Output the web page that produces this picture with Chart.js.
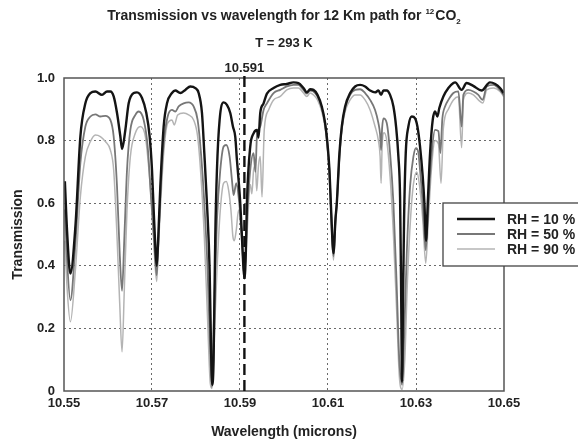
<!DOCTYPE html>
<html><head><meta charset="utf-8">
<script src="https://cdn.jsdelivr.net/npm/chart.js@4.4.1/dist/chart.umd.min.js"></script>
<style>html,body{margin:0;padding:0;background:#fff}canvas{display:block}</style>
</head><body>
<canvas id="c" width="578" height="443"></canvas>
<script>
// ---- data ----
const seriesLabels = ['RH = 10 %', 'RH = 50 %', 'RH = 90 %'];
const xTickValues = [10.55, 10.56, 10.57, 10.58, 10.59, 10.60, 10.61, 10.62, 10.63, 10.64, 10.65];
const xLabelledTicks = [10.55, 10.57, 10.59, 10.61, 10.63, 10.65];
const markerWavelength = 10.591;

const wl10 = [10.5502,10.5507,10.55145,10.55259,10.55372,10.55486,10.556,10.55713,10.55864,10.55978,10.56054,10.56129,10.56205,10.56281,10.56319,10.56394,10.5647,10.56584,10.56659,10.56773,10.56871,10.56947,10.57,10.57038,10.57076,10.57106,10.57136,10.57189,10.57265,10.57341,10.57454,10.5753,10.57643,10.57757,10.5787,10.57984,10.5806,10.58136,10.58189,10.58249,10.5831,10.58347,10.5837,10.584,10.58438,10.58476,10.58537,10.58628,10.58703,10.58779,10.58839,10.58892,10.5893,10.58968,10.59006,10.59044,10.59082,10.59104,10.59134,10.59157,10.59233,10.59309,10.59385,10.59422,10.5946,10.59536,10.59612,10.59763,10.59915,10.60064,10.60216,10.60329,10.60443,10.60519,10.60594,10.6067,10.60761,10.60859,10.60935,10.60988,10.61033,10.61071,10.61124,10.6117,10.612,10.6126,10.61313,10.61389,10.61503,10.61616,10.6173,10.61843,10.61957,10.6207,10.62146,10.62207,10.6226,10.62335,10.62411,10.62487,10.62547,10.626,10.62638,10.6266,10.62684,10.62706,10.62729,10.62767,10.62827,10.62903,10.62979,10.63032,10.63092,10.63153,10.63191,10.63229,10.63267,10.6332,10.6338,10.63433,10.63486,10.6353,10.63622,10.63736,10.6385,10.6389,10.64037,10.6415,10.643,10.6449,10.6468,10.648,10.6491,10.6499];
const t10 = [0.67,0.51,0.375,0.525,0.813,0.919,0.952,0.957,0.946,0.957,0.957,0.941,0.888,0.813,0.773,0.834,0.919,0.952,0.954,0.936,0.888,0.813,0.706,0.578,0.46,0.40,0.47,0.653,0.845,0.919,0.952,0.960,0.952,0.962,0.973,0.968,0.952,0.888,0.760,0.600,0.386,0.10,0.02,0.10,0.493,0.706,0.866,0.922,0.914,0.888,0.845,0.813,0.738,0.674,0.600,0.493,0.386,0.36,0.45,0.600,0.781,0.823,0.834,0.81,0.888,0.919,0.950,0.968,0.978,0.981,0.986,0.984,0.968,0.954,0.964,0.962,0.946,0.909,0.856,0.791,0.706,0.578,0.44,0.55,0.600,0.760,0.845,0.909,0.952,0.973,0.978,0.973,0.960,0.954,0.960,0.946,0.960,0.960,0.946,0.909,0.845,0.749,0.62,0.35,0.03,0.3,0.55,0.76,0.845,0.877,0.871,0.845,0.781,0.685,0.600,0.48,0.600,0.760,0.866,0.893,0.877,0.904,0.941,0.968,0.984,0.986,0.962,0.984,0.975,0.960,0.986,0.981,0.968,0.952];

const wl50 = [10.5502,10.5507,10.55145,10.55259,10.55372,10.55486,10.556,10.55713,10.55827,10.5594,10.56054,10.56129,10.56205,10.56266,10.56319,10.56372,10.56432,10.56508,10.56622,10.56697,10.56811,10.56902,10.56977,10.57053,10.57106,10.57136,10.57189,10.57265,10.57356,10.57454,10.5753,10.57606,10.57719,10.57833,10.57946,10.58037,10.58113,10.58189,10.58264,10.58325,10.58363,10.58416,10.58476,10.58552,10.58628,10.58688,10.58764,10.58817,10.58855,10.58915,10.58968,10.59044,10.59097,10.59157,10.59233,10.59309,10.5935,10.59385,10.5946,10.59536,10.59612,10.59763,10.59915,10.60064,10.60216,10.60329,10.60443,10.60519,10.60594,10.6067,10.60761,10.60859,10.60935,10.60988,10.61033,10.61071,10.61124,10.6117,10.612,10.6126,10.61313,10.61389,10.61503,10.61616,10.6173,10.61843,10.61957,10.6207,10.62146,10.62184,10.62207,10.6223,10.6226,10.62335,10.62411,10.62487,10.62562,10.6262,10.62684,10.62729,10.6279,10.62865,10.62941,10.63,10.63055,10.63092,10.63153,10.63221,10.63282,10.63357,10.63433,10.63509,10.63554,10.63599,10.6366,10.63736,10.6385,10.63963,10.64037,10.64077,10.6419,10.64304,10.64417,10.64515,10.64606,10.64758,10.64909,10.6499];
const t50 = [0.58,0.42,0.29,0.47,0.728,0.845,0.877,0.884,0.877,0.879,0.866,0.813,0.653,0.44,0.32,0.493,0.706,0.834,0.882,0.893,0.866,0.781,0.621,0.47,0.37,0.45,0.621,0.791,0.877,0.898,0.893,0.909,0.919,0.922,0.909,0.866,0.760,0.600,0.386,0.12,0.013,0.28,0.546,0.706,0.781,0.786,0.749,0.674,0.626,0.664,0.621,0.493,0.365,0.546,0.706,0.760,0.70,0.813,0.845,0.898,0.919,0.952,0.962,0.973,0.978,0.978,0.962,0.950,0.960,0.957,0.941,0.904,0.850,0.781,0.70,0.57,0.43,0.55,0.60,0.75,0.84,0.904,0.946,0.962,0.964,0.952,0.930,0.898,0.856,0.82,0.77,0.84,0.871,0.856,0.760,0.600,0.333,0.10,0.02,0.17,0.44,0.653,0.749,0.776,0.76,0.706,0.600,0.45,0.60,0.760,0.834,0.83,0.76,0.87,0.909,0.930,0.952,0.957,0.845,0.946,0.962,0.957,0.946,0.93,0.973,0.978,0.962,0.946];

const wl90 = [10.5502,10.5507,10.55145,10.55259,10.55372,10.55486,10.556,10.55713,10.55827,10.5594,10.56054,10.56129,10.56205,10.56266,10.56319,10.56372,10.56432,10.56508,10.56622,10.56735,10.56849,10.56924,10.57,10.57053,10.57106,10.57136,10.57189,10.57265,10.57356,10.57454,10.57507,10.57583,10.57719,10.57833,10.57946,10.58037,10.58113,10.58189,10.58264,10.58325,10.58363,10.58416,10.58476,10.58552,10.58628,10.58688,10.58741,10.58794,10.58839,10.5887,10.58915,10.58968,10.59044,10.59097,10.59157,10.59233,10.5927,10.59309,10.5935,10.5938,10.5942,10.5946,10.595,10.59551,10.5965,10.59763,10.59915,10.60064,10.60216,10.60329,10.60443,10.60519,10.60594,10.6067,10.60761,10.60859,10.60935,10.60988,10.61033,10.61071,10.61124,10.6117,10.612,10.6126,10.61313,10.61389,10.61503,10.61616,10.6173,10.61843,10.61957,10.6207,10.62146,10.62184,10.62207,10.6223,10.62275,10.62335,10.62411,10.62487,10.62562,10.6262,10.62684,10.62745,10.62805,10.6288,10.62941,10.63017,10.63077,10.63153,10.63221,10.63282,10.63357,10.63433,10.63509,10.63569,10.63622,10.63736,10.6385,10.63963,10.64037,10.64077,10.6419,10.64304,10.64417,10.6452,10.64606,10.64758,10.64909,10.6499];
const t90 = [0.48,0.33,0.221,0.386,0.621,0.749,0.797,0.818,0.813,0.797,0.770,0.706,0.493,0.28,0.125,0.33,0.578,0.749,0.824,0.845,0.813,0.717,0.578,0.440,0.350,0.43,0.578,0.760,0.856,0.866,0.850,0.882,0.888,0.882,0.866,0.813,0.685,0.493,0.226,0.024,0.008,0.173,0.386,0.578,0.664,0.669,0.642,0.578,0.493,0.48,0.514,0.578,0.472,0.365,0.493,0.66,0.63,0.706,0.72,0.64,0.72,0.749,0.62,0.834,0.898,0.930,0.941,0.962,0.968,0.968,0.952,0.941,0.952,0.946,0.930,0.893,0.840,0.77,0.68,0.55,0.418,0.53,0.59,0.74,0.83,0.893,0.930,0.946,0.946,0.930,0.898,0.845,0.80,0.75,0.664,0.78,0.825,0.80,0.685,0.50,0.25,0.05,0.005,0.10,0.35,0.56,0.66,0.70,0.66,0.55,0.408,0.55,0.72,0.80,0.79,0.664,0.84,0.90,0.930,0.94,0.777,0.93,0.952,0.946,0.93,0.92,0.962,0.968,0.957,0.941];

// ---- chart ----
const FONT = "'Liberation Sans', Arial, sans-serif";
const toPts = (xs, ys) => xs.map((x, i) => ({x: x, y: ys[i]}));
const near = (a, b) => Math.abs(a - b) < 1e-6;

const decorPlugin = {
  id: 'decor',
  afterDatasetsDraw(chart) {
    const {ctx, chartArea: a, scales} = chart;
    ctx.save();
    // frame
    ctx.strokeStyle = '#555';
    ctx.lineWidth = 1.5;
    ctx.setLineDash([]);
    ctx.strokeRect(a.left, a.top, a.right - a.left, a.bottom - a.top);
    // marker line at 10.591
    const mx = scales.x.getPixelForValue(markerWavelength);
    ctx.strokeStyle = '#111';
    ctx.lineWidth = 2.4;
    ctx.setLineDash([11, 5]);
    ctx.beginPath();
    ctx.moveTo(mx, a.bottom);
    ctx.lineTo(mx, a.top - 2);
    ctx.stroke();
    ctx.setLineDash([]);
    ctx.restore();
  },
  afterDraw(chart) {
    const {ctx, scales} = chart;
    ctx.save();
    ctx.fillStyle = '#222';
    ctx.textBaseline = 'alphabetic';
    // title line 1 with super/subscript
    const cx = 284;
    const main = 'Transmission vs wavelength for 12 Km path for ';
    const big = 'bold 14px ' + FONT, small = 'bold 8px ' + FONT;
    ctx.font = big; const w1 = ctx.measureText(main).width; const w3 = ctx.measureText('CO').width;
    ctx.font = small; const w2 = ctx.measureText('12').width; const w4 = ctx.measureText('2').width;
    let x = cx - (w1 + w2 + 1 + w3 + w4) / 2;
    const by = 20;
    ctx.textAlign = 'left';
    ctx.font = big; ctx.fillText(main, x, by); x += w1;
    ctx.font = small; ctx.fillText('12', x, by - 6); x += w2 + 1;
    ctx.font = big; ctx.fillText('CO', x, by); x += w3;
    ctx.font = small; ctx.fillText('2', x, by + 4);
    // line 2
    ctx.textAlign = 'center';
    ctx.font = 'bold 13px ' + FONT;
    ctx.fillText('T = 293 K', cx, 47);
    // marker label
    ctx.font = 'bold 13px ' + FONT;
    ctx.fillText(String(markerWavelength), scales.x.getPixelForValue(markerWavelength), 72);
    // legend box
    ctx.fillStyle = '#fff';
    ctx.fillRect(443, 203, 150, 63);
    ctx.strokeStyle = '#444';
    ctx.lineWidth = 1.3;
    ctx.strokeRect(443, 203, 150, 63);
    const ys = [219, 234, 249];
    chart.data.datasets.forEach((ds, i) => {
      ctx.strokeStyle = ds.borderColor;
      ctx.lineWidth = ds.borderWidth;
      ctx.beginPath(); ctx.moveTo(457, ys[i]); ctx.lineTo(495, ys[i]); ctx.stroke();
      ctx.fillStyle = '#222';
      ctx.font = 'bold 14px ' + FONT;
      ctx.textAlign = 'left';
      ctx.textBaseline = 'middle';
      ctx.fillText(ds.label, 507, ys[i] + 1);
    });
    ctx.restore();
  }
};

new Chart(document.getElementById('c'), {
  type: 'line',
  data: {
    datasets: [
      {label: seriesLabels[0], data: toPts(wl10, t10), borderColor: '#141414', borderWidth: 2.4},
      {label: seriesLabels[1], data: toPts(wl50, t50), borderColor: '#777777', borderWidth: 1.8},
      {label: seriesLabels[2], data: toPts(wl90, t90), borderColor: '#b4b4b4', borderWidth: 1.5}
    ]
  },
  options: {
    responsive: false,
    animation: false,
    events: [],
    parsing: true,
    elements: {point: {radius: 0}, line: {cubicInterpolationMode: 'monotone', fill: false}},
    layout: {padding: {left: 0, right: 74, top: 78, bottom: 0}},
    plugins: {legend: {display: false}, title: {display: false}, tooltip: {enabled: false}},
    scales: {
      x: {
        type: 'linear', min: 10.55, max: 10.65,
        afterBuildTicks: s => { s.ticks = xTickValues.map(v => ({value: v})); },
        afterFit: s => { s.height = 52; },
        ticks: {
          autoSkip: false, maxRotation: 0, padding: 5, color: '#222',
          font: {family: FONT, size: 13, weight: 'bold'},
          callback: v => xLabelledTicks.some(t => near(t, v)) ? v.toFixed(2) : ''
        },
        grid: {
          drawTicks: false, lineWidth: 1,
          color: c => (c.tick && [10.57, 10.59, 10.61, 10.63].some(t => near(t, c.tick.value))) ? '#6a6a6a' : 'rgba(0,0,0,0)'
        },
        border: {display: false, dash: [2, 3]},
        title: {display: true, text: 'Wavelength (microns)', color: '#222',
                font: {family: FONT, size: 14, weight: 'bold'}, padding: {top: 0, bottom: 2}}
      },
      y: {
        min: 0, max: 1,
        afterFit: s => { s.width = 64; },
        ticks: {
          stepSize: 0.2, padding: 9, color: '#222',
          font: {family: FONT, size: 13, weight: 'bold'},
          callback: v => near(v, 0) ? '0' : v.toFixed(1)
        },
        grid: {
          drawTicks: false, lineWidth: 1,
          color: c => (c.tick && !near(c.tick.value, 0) && !near(c.tick.value, 1)) ? '#6a6a6a' : 'rgba(0,0,0,0)'
        },
        border: {display: false, dash: [2, 3]},
        title: {display: true, text: 'Transmission', color: '#222',
                font: {family: FONT, size: 14, weight: 'bold'}, padding: {top: 10, bottom: 0}}
      }
    }
  },
  plugins: [decorPlugin]
});
</script>
</body></html>
